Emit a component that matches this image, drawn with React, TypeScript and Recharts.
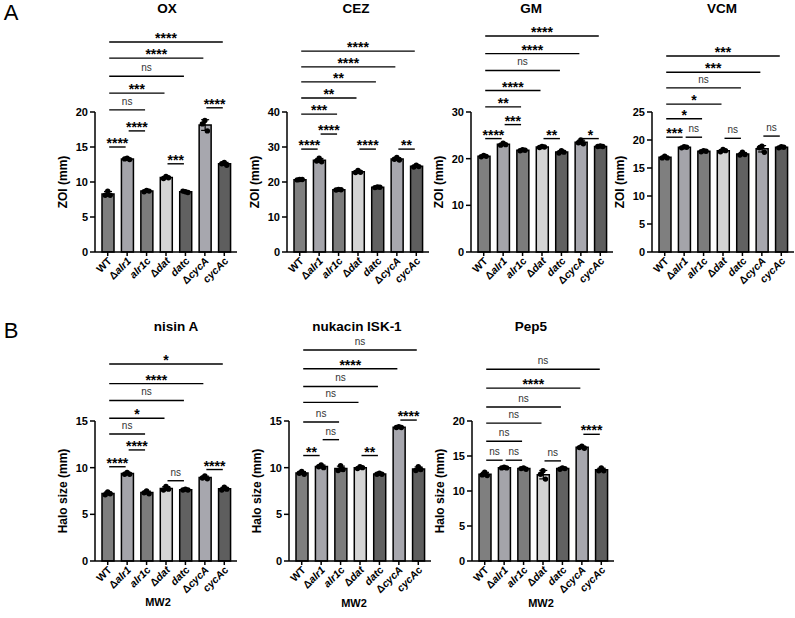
import React from "react";
import {
  Bar,
  Cell,
  ComposedChart,
  ErrorBar,
  ReferenceLine,
  Scatter,
  XAxis,
  YAxis,
} from "recharts";

const strains = ["WT", "Δalr1", "alr1c", "Δdat", "datc", "ΔcycA", "cycAc"];

// tick label pieces: [text, italic]
const strainLabels: [string, boolean][][] = [
  [["WT", false]],
  [["Δ", false], ["alr1", true]],
  [["alr1", true], ["c", false]],
  [["Δ", false], ["dat", true]],
  [["dat", true], ["c", false]],
  [["Δ", false], ["cycA", true]],
  [["cycA", true], ["c", false]],
];

const strainFills = ["#7f7f7f", "#a4a4aa", "#7c7c7c", "#d4d4d4", "#616161", "#a7a7ae", "#5e5e5e"];

// three replicates per strain
const oxReps = [[8.7, 8.1, 8.1], [13.4, 13.3, 13.2], [8.8, 8.6, 8.7], [10.8, 10.5, 10.6], [8.6, 8.7, 8.5], [18.8, 18.3, 17.3], [12.8, 12.6, 12.4]];
const cezReps = [[20.7, 20.6, 20.7], [26.8, 26.0, 25.8], [17.9, 17.7, 17.8], [23.3, 22.7, 22.8], [18.6, 18.4, 18.5], [27.0, 26.5, 26.3], [24.8, 24.3, 24.4]];
const gmReps = [[20.7, 20.4, 20.5], [23.3, 22.9, 23.0], [21.9, 21.7, 21.8], [22.6, 22.4, 22.5], [21.7, 21.2, 21.4], [24.0, 23.4, 23.2], [22.7, 22.6, 22.6]];
const vcmReps = [[17.1, 16.8, 16.8], [18.8, 18.6, 18.7], [18.1, 17.9, 18.0], [18.3, 17.9, 18.1], [17.8, 17.3, 17.4], [18.9, 18.6, 17.8], [18.8, 18.6, 18.7]];
const nisinReps = [[7.4, 7.1, 7.2], [9.5, 9.3, 9.3], [7.5, 7.3, 7.2], [8.0, 7.6, 7.7], [7.7, 7.6, 7.6], [9.1, 8.9, 8.8], [7.9, 7.6, 7.7]];
const nukacinReps = [[9.6, 9.4, 9.3], [10.3, 10.1, 10.0], [10.2, 9.7, 9.8], [10.1, 9.9, 10.0], [9.4, 9.3, 9.3], [14.4, 14.3, 14.3], [10.1, 9.7, 9.8]];
const pep5Reps = [[12.7, 12.3, 12.2], [13.4, 13.3, 13.3], [13.3, 13.2, 13.1], [12.9, 12.4, 11.7], [13.3, 13.1, 13.2], [16.4, 16.2, 16.1], [13.3, 12.9, 12.9]];

const oxTicks = [0, 5, 10, 15, 20];
const cezTicks = [0, 10, 20, 30, 40];
const gmTicks = [0, 10, 20, 30];
const vcmTicks = [0, 5, 10, 15, 20, 25];
const nisinTicks = [0, 5, 10, 15];
const nukacinTicks = [0, 5, 10, 15];
const pep5Ticks = [0, 5, 10, 15, 20];

// [from strain, to strain, bracket height, significance]
type Bracket = [number, number, number, string];

const oxBrackets: Bracket[] = [
  [0, 6, 30.0, "****"], [0, 5, 27.7, "****"], [0, 4, 25.1, "ns"], [0, 3, 22.7, "***"],
  [0, 2, 20.3, "ns"], [1, 2, 17.3, "****"], [0, 1, 15.0, "****"], [3, 4, 12.6, "***"], [5, 6, 20.6, "****"],
];
const cezBrackets: Bracket[] = [
  [0, 6, 57.4, "****"], [0, 5, 52.9, "****"], [0, 4, 48.6, "**"], [0, 3, 44.0, "**"],
  [0, 2, 39.4, "***"], [1, 2, 33.7, "****"], [0, 1, 29.4, "****"], [3, 4, 29.4, "****"], [5, 6, 29.4, "**"],
];
const gmBrackets: Bracket[] = [
  [0, 6, 46.3, "****"], [0, 5, 42.5, "****"], [0, 4, 38.9, "ns"], [0, 3, 34.6, "****"],
  [0, 2, 31.1, "**"], [1, 2, 27.3, "***"], [0, 1, 24.3, "****"], [3, 4, 24.3, "**"], [5, 6, 24.3, "*"],
];
const vcmBrackets: Bracket[] = [
  [0, 6, 35.0, "***"], [0, 5, 32.1, "***"], [0, 4, 29.3, "ns"], [0, 3, 26.4, "*"],
  [0, 2, 23.8, "*"], [0, 1, 20.5, "***"], [1, 2, 20.5, "ns"], [3, 4, 20.3, "ns"], [5, 6, 20.7, "ns"],
];
const nisinBrackets: Bracket[] = [
  [0, 6, 21.1, "*"], [0, 5, 19.0, "****"], [0, 4, 17.2, "ns"], [0, 3, 15.3, "*"],
  [0, 2, 13.6, "ns"], [1, 2, 11.9, "****"], [0, 1, 10.1, "****"], [3, 4, 8.6, "ns"], [5, 6, 9.8, "****"],
];
const nukacinBrackets: Bracket[] = [
  [0, 6, 22.6, "ns"], [0, 5, 20.6, "****"], [0, 4, 18.7, "ns"], [0, 3, 17.0, "ns"],
  [0, 2, 14.9, "ns"], [1, 2, 13.0, "ns"], [0, 1, 11.3, "**"], [3, 4, 11.3, "**"], [5, 6, 15.1, "****"],
];
const pep5Brackets: Bracket[] = [
  [0, 6, 27.4, "ns"], [0, 5, 24.7, "****"], [0, 4, 22.0, "ns"], [0, 3, 19.7, "ns"],
  [0, 2, 17.1, "ns"], [0, 1, 14.4, "ns"], [1, 2, 14.4, "ns"], [3, 4, 14.3, "ns"], [5, 6, 18.1, "****"],
];

const FONT = "'Liberation Sans', Arial, sans-serif";
const jitter = [0, -2.5, 2.5];

const avg = (a: number[]) => a.reduce((s, v) => s + v, 0) / a.length;
const sd = (a: number[]) => {
  const m = avg(a);
  return Math.sqrt(a.reduce((s, v) => s + (v - m) ** 2, 0) / (a.length - 1));
};

function StrainTick({ x, y, payload }: any) {
  const i = strains.indexOf(payload.value);
  return (
    <g transform={`translate(${x + 2},${y + 1})`}>
      <text
        transform="rotate(-45)"
        textAnchor="end"
        dy="0.35em"
        fontSize={10.5}
        fontWeight={700}
        fill="#000"
      >
        {strainLabels[i].map(([t, it], k) => (
          <tspan key={k} fontStyle={it ? "italic" : "normal"}>
            {t}
          </tspan>
        ))}
      </text>
    </g>
  );
}

function Dot({ cx, cy, payload }: any) {
  return <circle cx={cx + jitter[payload.k]} cy={cy} r={2.7} fill="#000" />;
}

function BracketLine({ x1, y1, x2, y2 }: any) {
  return <line x1={x1 + 1.5} y1={y1} x2={x2 - 1.5} y2={y2} stroke="#000" strokeWidth={1.4} />;
}

const bracketText = (text: string) =>
  function BracketText({ viewBox }: any) {
    const cx = viewBox.x + viewBox.width / 2;
    const ns = text === "ns";
    return (
      <text
        x={cx}
        y={ns ? viewBox.y - 5 : viewBox.y + 1}
        textAnchor="middle"
        fontSize={ns ? 10 : 14}
        fontWeight={ns ? 400 : 700}
        fill={ns ? "#333" : "#000"}
      >
        {text}
      </text>
    );
  };

interface PanelProps {
  axisX: number;
  chartTop: number;
  plotTop: number;
  plotBottom: number;
  reps: number[][];
  ticks: number[];
  brackets: Bracket[];
  yLabel: string;
}

function Panel({ axisX, chartTop, plotTop, plotBottom, reps, ticks, brackets, yLabel }: PanelProps) {
  const rows = strains.map((name, i) => ({ name, mean: avg(reps[i]), sd: sd(reps[i]) }));
  const dots = strains.flatMap((name, i) => reps[i].map((v, k) => ({ name, v, k })));
  const height = plotBottom - chartTop + 56;
  const axisStyle = { stroke: "#000", strokeWidth: 1.5 };

  return (
    <div style={{ position: "absolute", left: axisX - 75, top: chartTop }}>
      <ComposedChart
        width={218}
        height={height}
        data={rows}
        margin={{ top: plotTop - chartTop, right: 1, bottom: 6, left: 11 }}
      >
        <XAxis
          dataKey="name"
          type="category"
          allowDuplicatedCategory={false}
          interval={0}
          padding={{ left: 3, right: 3 }}
          height={50}
          tickSize={4}
          axisLine={axisStyle}
          tickLine={axisStyle}
          tick={<StrainTick />}
        />
        <YAxis
          type="number"
          domain={[0, ticks[ticks.length - 1]]}
          ticks={ticks}
          interval={0}
          width={64}
          tickSize={5}
          tickMargin={2}
          axisLine={axisStyle}
          tickLine={axisStyle}
          tick={{ fill: "#000", fontSize: 11, fontWeight: 700 }}
          label={{ value: yLabel, angle: -90, position: "center", fill: "#000", fontSize: 12, fontWeight: 700 }}
        />
        <Bar dataKey="mean" barSize={12} stroke="#000" strokeWidth={1.5} isAnimationActive={false}>
          {rows.map((r, i) => (
            <Cell key={r.name} fill={strainFills[i]} />
          ))}
          <ErrorBar dataKey="sd" width={4} stroke="#000" strokeWidth={1.2} />
        </Bar>
        <Scatter data={dots} dataKey="v" shape={<Dot />} isAnimationActive={false} />
        {brackets.map(([a, b, h, sig], i) => (
          <ReferenceLine
            key={i}
            segment={[
              { x: strains[a], y: h },
              { x: strains[b], y: h },
            ]}
            ifOverflow="visible"
            shape={<BracketLine />}
            label={bracketText(sig)}
          />
        ))}
      </ComposedChart>
    </div>
  );
}

function Caption({ x, y, text, size, bold = true }: { x: number; y: number; text: string; size: number; bold?: boolean }) {
  return (
    <div
      style={{
        position: "absolute",
        left: x - 100,
        top: y - size / 2,
        width: 200,
        lineHeight: `${size}px`,
        textAlign: "center",
        fontSize: size,
        fontWeight: bold ? 700 : 400,
        whiteSpace: "nowrap",
      }}
    >
      {text}
    </div>
  );
}

export default function App() {
  return (
    <div
      style={{
        position: "fixed",
        left: 0,
        top: 0,
        width: 795,
        height: 618,
        background: "#fff",
        overflow: "hidden",
        fontFamily: FONT,
        color: "#000",
      }}
    >
      <Caption x={11} y={13} text="A" size={22} bold={false} />
      <Caption x={11} y={331} text="B" size={22} bold={false} />

      <Caption x={167} y={9} text="OX" size={13.5} />
      <Caption x={356} y={9} text="CEZ" size={13.5} />
      <Caption x={531} y={9} text="GM" size={13.5} />
      <Caption x={722} y={9} text="VCM" size={13.5} />
      <Caption x={176} y={327} text="nisin A" size={13.5} />
      <Caption x={357} y={327} text="nukacin ISK-1" size={13.5} />
      <Caption x={531} y={327} text="Pep5" size={13.5} />

      <Panel axisX={95} chartTop={0} plotTop={112} plotBottom={252} reps={oxReps} ticks={oxTicks} brackets={oxBrackets} yLabel="ZOI (mm)" />
      <Panel axisX={287} chartTop={0} plotTop={112} plotBottom={252} reps={cezReps} ticks={cezTicks} brackets={cezBrackets} yLabel="ZOI (mm)" />
      <Panel axisX={471} chartTop={0} plotTop={112} plotBottom={252} reps={gmReps} ticks={gmTicks} brackets={gmBrackets} yLabel="ZOI (mm)" />
      <Panel axisX={652} chartTop={0} plotTop={112} plotBottom={252} reps={vcmReps} ticks={vcmTicks} brackets={vcmBrackets} yLabel="ZOI (mm)" />
      <Panel axisX={95} chartTop={320} plotTop={421} plotBottom={561} reps={nisinReps} ticks={nisinTicks} brackets={nisinBrackets} yLabel="Halo size (mm)" />
      <Panel axisX={289} chartTop={320} plotTop={421} plotBottom={561} reps={nukacinReps} ticks={nukacinTicks} brackets={nukacinBrackets} yLabel="Halo size (mm)" />
      <Panel axisX={472} chartTop={320} plotTop={421} plotBottom={561} reps={pep5Reps} ticks={pep5Ticks} brackets={pep5Brackets} yLabel="Halo size (mm)" />

      <Caption x={158} y={602} text="MW2" size={11} />
      <Caption x={354} y={603} text="MW2" size={11} />
      <Caption x={541} y={603} text="MW2" size={11} />
    </div>
  );
}
